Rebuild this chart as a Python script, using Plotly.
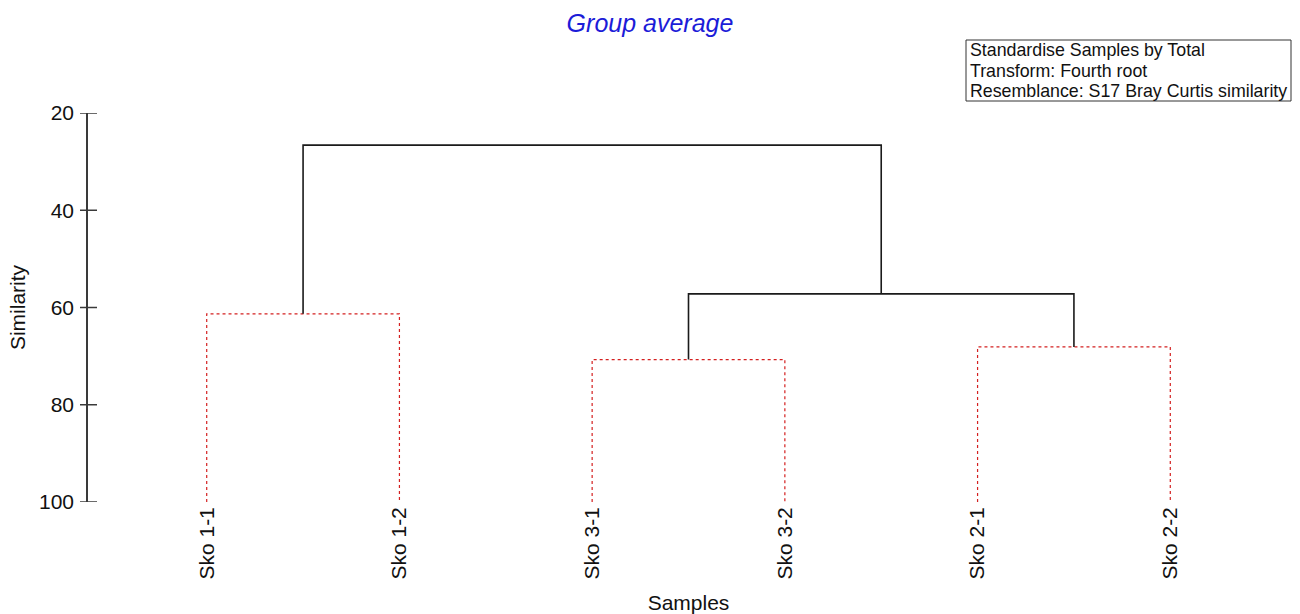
import plotly.graph_objects as go

# Sample labels in dendrogram leaf order
leaf_labels = ["Sko 1-1", "Sko 1-2", "Sko 3-1", "Sko 3-2", "Sko 2-1", "Sko 2-2"]

# Linkage: (left cluster, right cluster, similarity at join)
# clusters 0-5 are leaves; each join creates the next cluster id (6, 7, ...)
join_left = [0, 2, 4, 7, 6]
join_right = [1, 3, 5, 8, 9]
join_similarity = [61.3, 70.7, 68.1, 57.2, 26.6]
# SIMPROF result: False -> not significantly structured (red dotted)
join_significant = [False, False, False, True, True]

y_ticks = [20, 40, 60, 80, 100]

info_lines = [
    "Standardise Samples by Total",
    "Transform: Fourth root",
    "Resemblance: S17 Bray Curtis similarity",
]

FONT = "Arial, Liberation Sans, sans-serif"
AXIS_COLOR = "#3a3a3a"

W, H = 1300, 614
M_L, M_R, M_T, M_B = 88, 11, 113, 112
PLOT_W = W - M_L - M_R
PLOT_H = H - M_T - M_B


def px_to_paper_x(px):
    return (px - M_L) / PLOT_W


def px_to_paper_y(py):
    return (H - M_B - py) / PLOT_H


# cluster x-position and height (leaves sit at 100% similarity)
pos = {i: float(i) for i in range(len(leaf_labels))}
height = {i: 100.0 for i in range(len(leaf_labels))}

fig = go.Figure()
next_id = len(leaf_labels)
for a, b, s, sig in zip(join_left, join_right, join_similarity, join_significant):
    xs = [pos[a], pos[a], pos[b], pos[b]]
    ys = [height[a], s, s, height[b]]
    if sig:
        line = dict(color="#1a1a1a", width=1.6)
    else:
        line = dict(color="#d42020", width=1.2, dash="dot")
    fig.add_trace(go.Scatter(x=xs, y=ys, mode="lines", line=line,
                             hoverinfo="skip", showlegend=False))
    pos[next_id] = (pos[a] + pos[b]) / 2
    height[next_id] = s
    next_id += 1

# tick marks crossing the similarity axis line
shapes = [
    dict(type="line", xref="paper", yref="y", xsizemode="pixel", xanchor=0,
         x0=-8, x1=9, y0=t, y1=t, line=dict(color=AXIS_COLOR, width=1.5))
    for t in y_ticks
]

# info box in the top-right corner
box_left, box_right, box_top, box_bottom = 966, 1291, 40, 101
shapes.append(dict(type="rect", xref="paper", yref="paper",
                   x0=px_to_paper_x(box_left), x1=px_to_paper_x(box_right),
                   y0=px_to_paper_y(box_bottom), y1=px_to_paper_y(box_top),
                   line=dict(color="#333", width=1), fillcolor="white", layer="below"))

annotations = []
line_step = (box_bottom - box_top) / len(info_lines)
for k, txt in enumerate(info_lines):
    annotations.append(dict(
        text=txt, xref="paper", yref="paper",
        x=px_to_paper_x(box_left + 2), y=px_to_paper_y(box_top + line_step * (k + 0.5)),
        xanchor="left", yanchor="middle", showarrow=False,
        font=dict(family=FONT, size=17.8, color="#111"),
    ))

n = len(leaf_labels)
fig.update_layout(
    width=W, height=H,
    paper_bgcolor="white", plot_bgcolor="white",
    margin=dict(l=M_L, r=M_R, t=M_T, b=M_B, autoexpand=False),
    font=dict(family=FONT, size=21, color="#111"),
    title=dict(text="<i>Group average</i>", x=0.5, xanchor="center",
               y=1 - 23 / H, yanchor="middle", xref="container", yref="container",
               font=dict(family=FONT, size=25, color="#1c1cd8")),
    xaxis=dict(
        range=[-0.616, n - 1 + 0.616], tickvals=list(range(n)), ticktext=leaf_labels,
        tickangle=-90, showgrid=False, zeroline=False, showline=False, ticks="",
        title=dict(text="Samples", standoff=16, font=dict(size=21)),
        tickfont=dict(size=21), automargin=False,
    ),
    yaxis=dict(
        range=[100, 20], tickvals=y_ticks, showgrid=False, zeroline=False,
        showline=True, linecolor=AXIS_COLOR, linewidth=1.5,
        ticks="outside", ticklen=8, tickwidth=0.01, tickcolor="rgba(0,0,0,0)",
        title=dict(text="Similarity", standoff=8, font=dict(size=21)),
        tickfont=dict(size=21), automargin=False,
    ),
    shapes=shapes,
    annotations=annotations,
)

fig.write_html("out.html")
